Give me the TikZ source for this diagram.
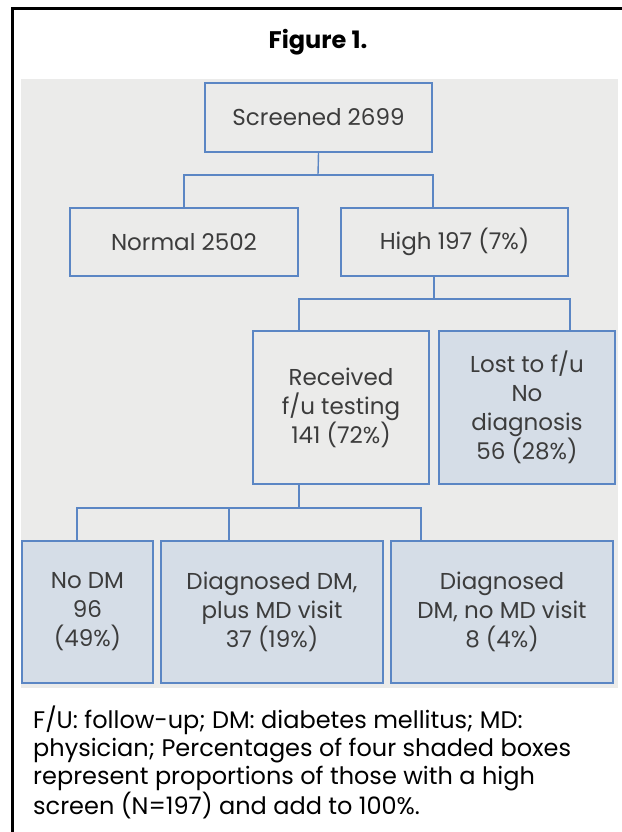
\documentclass[tikz,border=0pt]{standalone}
\usepackage{fontspec}
\setmainfont{Poppins}
\definecolor{panelgray}{HTML}{EBEBEA}
\definecolor{boxblue}{HTML}{5B86C4}
\definecolor{shade}{HTML}{D5DDE7}
\definecolor{txt}{HTML}{3C3C3C}
\begin{document}
\begin{tikzpicture}[x=1pt,y=-1pt,
  box/.style={draw=boxblue,line width=1.4pt,rectangle,inner sep=0pt,align=center,
    text=txt,font=\fontsize{23}{29}\selectfont},
  shaded/.style={box,fill=shade},
  conn/.style={draw=boxblue,line width=1.4pt}]
\useasboundingbox (0,0) rectangle (621,832);
\fill[white] (0,0) rectangle (621,832);
% frame
\draw[black,line width=3pt] (12,834) -- (12,9) -- (623,9);
% title
\node[font=\bfseries\fontsize{24}{28}\selectfont,text=black,anchor=base] (title) at (318,49) {Figure 1.};
% panel
\fill[panelgray] (21,79) rectangle (618,688);
% boxes
\node[box,minimum width=227,minimum height=69] (scr) at (318.5,117.5) {Screened 2699};
\node[box,minimum width=228,minimum height=68] (normal) at (184,242) {Normal 2502};
\node[box,minimum width=227,minimum height=68] (high) at (454.5,242) {High 197 (7\%)};
\node[box,minimum width=176,minimum height=153] (recv) at (341,407.5) {Received\\f/u testing\\141 (72\%)};
\node[shaded,minimum width=176,minimum height=153] (lost) at (527,407.5) {Lost to f/u\\No\\diagnosis\\56 (28\%)};
\node[shaded,minimum width=131,minimum height=142] (nodm) at (87.5,612) {No DM\\96\\(49\%)};
\node[shaded,minimum width=222,minimum height=142] (dplus) at (272,612) {Diagnosed DM,\\plus MD visit\\37 (19\%)};
\node[shaded,minimum width=222,minimum height=142] (dno) at (502,612) {Diagnosed\\DM, no MD visit\\8 (4\%)};
% junctions
\coordinate (j1) at (318,175);
\coordinate (dH) at (433,0);
\coordinate (j2) at (434,299);
\coordinate (dR) at (299,0);
\coordinate (dL) at (570,0);
\coordinate (j3) at (299,508);
\coordinate (dN) at (77,0);
\coordinate (dP) at (229,0);
\coordinate (dD) at (421,0);
% connectors
\draw[conn] (scr.south) -- (j1);
\draw[conn] (normal.north) |- (j1) -| (high.north -| dH);
\draw[conn] (high.south -| j2) -- (j2);
\draw[conn] (recv.north -| dR) |- (j2) -| (lost.north -| dL);
\draw[conn] (recv.south -| j3) -- (j3);
\draw[conn] (nodm.north -| dN) |- (j3) -| (dno.north -| dD);
\draw[conn] (dplus.north -| dP) -- (j3 -| dP);
% caption
\node[anchor=north west,align=left,text=black,font=\fontsize{24}{27.7}\selectfont,inner sep=0pt] (cap) at (33,706)
{F/U: follow-up; DM: diabetes mellitus; MD:\\physician; Percentages of four shaded boxes\\represent proportions of those with a high\\screen (N=197) and add to 100\%.};
\end{tikzpicture}
\end{document}
